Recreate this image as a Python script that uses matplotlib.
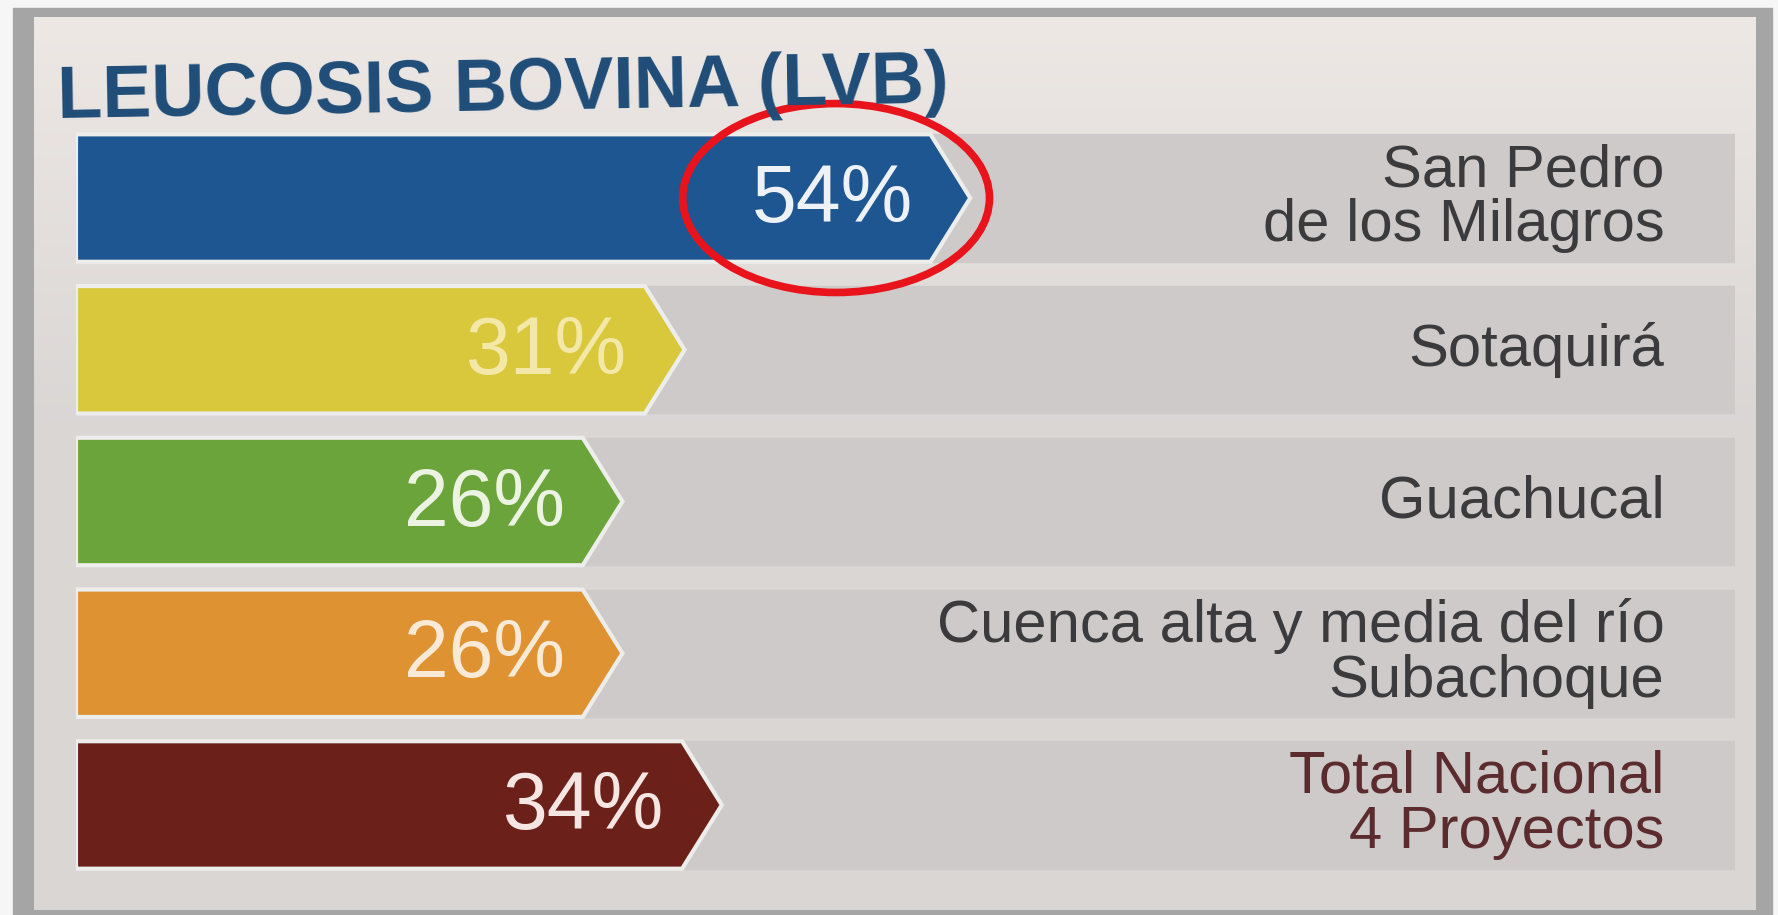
import matplotlib.pyplot as plt
import numpy as np
from matplotlib.patches import Polygon, Ellipse, Rectangle

title = "LEUCOSIS BOVINA (LVB)"
regions = ["San Pedro\nde los Milagros", "Sotaquirá", "Guachucal",
           "Cuenca alta y media del río\nSubachoque", "Total Nacional\n4 Proyectos"]
values = [54, 31, 26, 26, 34]
bar_colors = ["#1d5691", "#d9c83c", "#6aa43a", "#df9232", "#6b2119"]
value_colors = ["#eef2f7", "#f3e8a8", "#edf3e2", "#f8ead6", "#f6e6e3"]
label_colors = ["#3b3b3d", "#3b3b3d", "#3b3b3d", "#3b3b3d", "#5b2b2e"]
highlight = 0  # row circled in red

W, H = 1778, 915
sans = ["Liberation Sans", "DejaVu Sans"]

fig = plt.figure(figsize=(W / 100, H / 100), dpi=100, facecolor="#f6f6f6")

# frame + page background
bg = fig.add_axes([0, 0, 1, 1])
bg.add_patch(Rectangle((13, 8), 1759, 907, color="#a5a5a5", zorder=0))
grad = np.linspace(0, 1, 300)[:, None]
top = np.array([0.93, 0.91, 0.895])
bot = np.array([0.855, 0.84, 0.835])
img = top + (bot - top) * np.clip(grad * 2.2, 0, 1)[..., None]
bg.imshow(img, extent=(34, 1756, 910, 17), aspect="auto", zorder=1)
bg.set_xlim(0, W)
bg.set_ylim(H, 0)
bg.axis("off")

# main axes: x in percent, y rows
x0 = -18
px_per_unit = 12.42
ax_left, ax_right = 76, 1735
xmax = x0 + (ax_right - ax_left) / px_per_unit
ax = fig.add_axes([ax_left / W, 19 / H, (ax_right - ax_left) / W, 789 / H])
ax.set_xlim(x0, xmax)
ax.set_ylim(len(values) - 0.4, -0.6)
ax.axis("off")

h = 0.84
tip = 3.2
for i, v in enumerate(values):
    ax.add_patch(Rectangle((x0, i - h / 2), xmax - x0, h, color="#cdcac9", zorder=1))
    pts = [(x0, i - h / 2), (v - tip, i - h / 2), (v, i), (v - tip, i + h / 2), (x0, i + h / 2)]
    ax.add_patch(Polygon(pts, closed=True, facecolor=bar_colors[i], edgecolor="#ededec",
                         lw=3, joinstyle="miter", zorder=2))
    ax.text(v - 4.6, i + 0.02, f"{v}%", ha="right", va="center", fontsize=58,
            color=value_colors[i], family=sans, zorder=3)
    ax.text(109.9, i, regions[i], ha="right", va="center", multialignment="right",
            linespacing=1.0, fontsize=43, color=label_colors[i], family=sans, zorder=3)

hv = values[highlight]
ax.add_patch(Ellipse((hv - 10.8, highlight), 24.7, 1.245, fill=False,
                     ec="#e8131b", lw=5.5, zorder=5, clip_on=False))

fig.text(57 / W, 1 - 118 / H, title, fontsize=53, fontweight="bold", color="#1f4d78",
         va="baseline", rotation=1, family=sans)

fig.savefig("out.png", dpi=100, facecolor=fig.get_facecolor())
